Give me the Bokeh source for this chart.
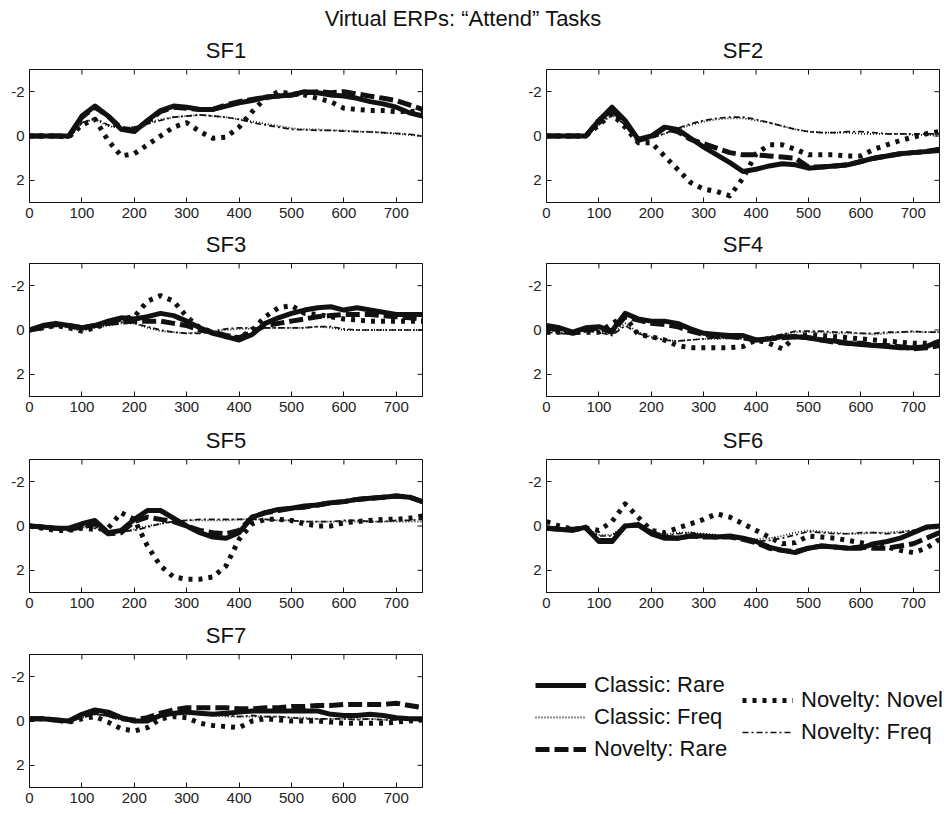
from bokeh.plotting import figure
from bokeh.layouts import column, row
from bokeh.models import Range1d, FixedTicker, Legend, LegendItem, ColumnDataSource, Div
from bokeh.embed import file_html
from bokeh.resources import INLINE

# ---------------- data ----------------
time_ms = [0, 25, 50, 75, 100, 125, 150, 175, 200, 225, 250, 275, 300, 325, 350, 375,
           400, 425, 450, 475, 500, 525, 550, 575, 600, 625, 650, 675, 700, 725, 750]

main_title = "Virtual ERPs: \u201cAttend\u201d Tasks"
series_names = ["Classic: Rare", "Classic: Freq", "Novelty: Rare", "Novelty: Novel", "Novelty: Freq"]
panel_names = ["SF1", "SF2", "SF3", "SF4", "SF5", "SF6", "SF7"]
x_ticks = [0, 100, 200, 300, 400, 500, 600, 700]
y_ticks = [-2, 0, 2]
y_tick_labels = {-2: "-2", 0: "0", 2: "2"}

sf1_classic_rare = [0,0,0,0,-0.9,-1.35,-0.9,-0.3,-0.2,-0.7,-1.15,-1.35,-1.3,-1.2,-1.2,-1.35,-1.5,-1.6,-1.75,-1.8,-1.85,-2.0,-1.95,-1.85,-1.8,-1.7,-1.55,-1.45,-1.3,-1.05,-0.9]
sf1_classic_freq = [0,0,0,0.05,-0.6,-0.75,-0.45,-0.35,-0.4,-0.6,-0.75,-0.85,-0.9,-0.95,-0.9,-0.85,-0.75,-0.65,-0.55,-0.45,-0.35,-0.3,-0.3,-0.25,-0.25,-0.2,-0.2,-0.15,-0.1,-0.05,0]
sf1_novelty_rare = [0,0,0,0,-0.85,-1.3,-0.9,-0.35,-0.25,-0.65,-1.1,-1.3,-1.25,-1.2,-1.2,-1.4,-1.55,-1.65,-1.75,-1.8,-1.85,-1.95,-2.0,-1.95,-2.0,-1.9,-1.8,-1.7,-1.6,-1.4,-1.2]
sf1_novelty_novel = [0,0,0,0.05,-0.5,-0.75,0.2,0.9,0.8,0.4,0,-0.4,-0.6,-0.2,0.1,0.05,-0.4,-1.1,-1.7,-2.0,-1.9,-1.85,-1.7,-1.55,-1.25,-1.2,-1.15,-1.15,-1.1,-1.1,-1.15]
sf1_novelty_freq = [0,0,0,0.1,-0.6,-0.8,-0.5,-0.35,-0.4,-0.55,-0.7,-0.85,-0.9,-0.95,-0.9,-0.85,-0.75,-0.6,-0.5,-0.4,-0.3,-0.28,-0.25,-0.25,-0.22,-0.2,-0.18,-0.15,-0.12,-0.08,0]

sf2_classic_rare = [0,0,0,0,-0.7,-1.3,-0.7,0.15,0.0,-0.4,-0.3,0.1,0.5,0.85,1.2,1.6,1.5,1.35,1.25,1.3,1.45,1.4,1.35,1.3,1.15,1.0,0.9,0.8,0.75,0.7,0.6]
sf2_classic_freq = [0,0,0,0,-0.5,-0.95,-0.5,0.15,0.1,-0.1,-0.3,-0.5,-0.65,-0.75,-0.8,-0.8,-0.7,-0.6,-0.45,-0.3,-0.2,-0.15,-0.15,-0.15,-0.1,-0.1,-0.1,-0.1,-0.05,-0.05,0]
sf2_novelty_rare = [0,0,0,0,-0.7,-1.2,-0.6,0.2,0.05,-0.35,-0.2,0.15,0.35,0.55,0.75,0.85,0.85,0.9,0.95,1.0,1.4,1.4,1.35,1.3,1.15,1.0,0.9,0.8,0.75,0.7,0.65]
sf2_novelty_novel = [0,0,0,0,-0.5,-1.0,-0.4,0.3,0.3,0.9,1.5,2.1,2.4,2.5,2.7,1.9,0.8,0.4,0.4,0.6,0.85,0.85,0.85,0.9,0.9,0.6,0.4,0.2,0.05,-0.1,-0.2]
sf2_novelty_freq = [0,0,0,0,-0.5,-1.0,-0.5,0.2,0.1,-0.1,-0.35,-0.55,-0.7,-0.8,-0.85,-0.85,-0.75,-0.6,-0.45,-0.3,-0.2,-0.15,-0.15,-0.2,-0.2,-0.15,-0.1,-0.1,-0.1,-0.1,-0.1]

sf3_classic_rare = [0,-0.2,-0.3,-0.2,-0.1,-0.2,-0.4,-0.55,-0.5,-0.6,-0.75,-0.65,-0.4,-0.1,0.15,0.3,0.45,0.2,-0.3,-0.55,-0.75,-0.9,-1.0,-1.05,-0.9,-1.0,-0.9,-0.8,-0.7,-0.7,-0.7]
sf3_classic_freq = [0,-0.1,-0.2,-0.1,0.05,-0.1,-0.2,-0.3,-0.3,-0.1,0.05,0.1,0.15,0.1,0.05,0.0,-0.05,-0.05,-0.1,-0.1,-0.1,-0.1,-0.15,-0.1,0.0,0.0,0.0,0.0,0.0,0.0,0.0]
sf3_novelty_rare = [0,-0.1,-0.25,-0.2,-0.1,-0.2,-0.3,-0.35,-0.4,-0.4,-0.4,-0.3,-0.2,0.0,0.1,0.25,0.35,0.1,-0.2,-0.3,-0.4,-0.5,-0.6,-0.65,-0.7,-0.7,-0.7,-0.65,-0.6,-0.55,-0.5]
sf3_novelty_novel = [0,-0.1,-0.2,-0.1,0.05,-0.1,-0.3,-0.5,-0.6,-1.3,-1.55,-1.3,-0.6,-0.1,0.1,0.3,0.35,0.0,-0.6,-1.0,-1.1,-0.75,-0.7,-0.6,-0.5,-0.45,-0.4,-0.4,-0.4,-0.4,-0.4]
sf3_novelty_freq = [0,-0.1,-0.2,-0.15,0.0,-0.15,-0.25,-0.35,-0.3,-0.15,0.0,0.1,0.15,0.15,0.05,-0.05,-0.1,-0.1,-0.1,-0.1,-0.1,-0.1,-0.15,-0.15,-0.05,0.0,0.0,0.0,0.0,0.0,0.0]

sf4_classic_rare = [-0.2,-0.1,0.1,-0.1,-0.15,0.05,-0.75,-0.5,-0.4,-0.4,-0.3,-0.05,0.15,0.2,0.25,0.25,0.45,0.4,0.3,0.3,0.35,0.45,0.5,0.6,0.65,0.7,0.75,0.8,0.8,0.75,0.5]
sf4_classic_freq = [0,0.1,0.2,0.0,0.05,0.2,-0.3,0.1,0.3,0.45,0.5,0.45,0.4,0.4,0.35,0.4,0.5,0.35,0.2,0.1,0.1,0.1,0.15,0.15,0.15,0.2,0.15,0.1,0.1,0.1,0.1]
sf4_novelty_rare = [-0.1,0.0,0.15,0.0,-0.1,0.1,-0.6,-0.45,-0.3,-0.25,-0.15,0.05,0.2,0.3,0.3,0.35,0.45,0.4,0.35,0.3,0.35,0.45,0.55,0.6,0.6,0.7,0.7,0.75,0.85,0.8,0.7]
sf4_novelty_novel = [0.1,0.1,0.1,0.1,0.1,-0.3,-0.6,0.2,0.3,0.45,0.7,0.8,0.8,0.8,0.8,0.75,0.45,0.6,0.85,0.3,0.2,0.25,0.3,0.35,0.4,0.45,0.5,0.55,0.6,0.6,0.6]
sf4_novelty_freq = [0.1,0.15,0.2,0.05,0.1,0.25,-0.2,0.15,0.35,0.45,0.5,0.45,0.4,0.35,0.35,0.4,0.45,0.3,0.2,0.05,0.05,0.05,0.1,0.1,0.15,0.15,0.1,0.1,0.05,0.1,0.1]

sf5_classic_rare = [0,0.05,0.1,0.1,-0.1,-0.25,0.3,0.2,-0.3,-0.7,-0.7,-0.35,0.0,0.3,0.5,0.55,0.3,-0.4,-0.6,-0.75,-0.8,-0.9,-0.95,-1.05,-1.1,-1.2,-1.25,-1.3,-1.35,-1.3,-1.1]
sf5_classic_freq = [0,0.05,0.1,0.1,0.05,0.1,0.3,0.25,0.15,0.0,-0.1,-0.2,-0.25,-0.25,-0.25,-0.25,-0.3,-0.3,-0.3,-0.25,-0.25,-0.2,-0.2,-0.2,-0.2,-0.2,-0.2,-0.2,-0.2,-0.2,-0.2]
sf5_novelty_rare = [0,0.05,0.1,0.15,0.05,-0.1,0.35,0.3,-0.2,-0.4,-0.3,-0.2,0.0,0.2,0.3,0.35,0.2,-0.4,-0.6,-0.7,-0.8,-0.85,-0.95,-1.05,-1.1,-1.2,-1.25,-1.3,-1.35,-1.3,-1.1]
sf5_novelty_novel = [0,0.1,0.2,0.2,0.1,0.15,0.1,-0.6,-0.3,0.9,1.8,2.3,2.4,2.4,2.3,1.8,0.6,-0.1,-0.3,-0.3,-0.25,-0.1,0.0,0.0,-0.15,-0.2,-0.25,-0.3,-0.3,-0.35,-0.45]
sf5_novelty_freq = [0,0.05,0.15,0.15,0.0,0.1,0.3,0.25,0.2,0.05,-0.1,-0.2,-0.25,-0.3,-0.3,-0.3,-0.3,-0.3,-0.3,-0.25,-0.25,-0.2,-0.2,-0.2,-0.25,-0.25,-0.2,-0.2,-0.25,-0.25,-0.3]

sf6_classic_rare = [0.1,0.15,0.2,0.05,0.7,0.7,0.0,-0.05,0.35,0.55,0.55,0.45,0.45,0.5,0.45,0.55,0.7,0.95,1.1,1.2,1.0,0.9,0.95,1.0,1.0,0.8,0.7,0.55,0.3,0.05,0.0]
sf6_classic_freq = [0,0.1,0.15,0.1,0.4,0.4,-0.05,-0.15,0.2,0.4,0.3,0.3,0.35,0.4,0.45,0.5,0.6,0.55,0.45,0.3,0.2,0.25,0.3,0.35,0.35,0.3,0.3,0.25,0.2,0.15,0.1]
sf6_novelty_rare = [0.1,0.15,0.15,0.1,0.65,0.65,0.0,-0.05,0.3,0.5,0.55,0.45,0.5,0.5,0.5,0.6,0.75,1.0,1.1,1.15,1.0,0.9,0.95,1.0,0.95,1.0,1.0,0.9,0.8,0.55,0.3]
sf6_novelty_novel = [-0.2,0.0,0.15,0.1,0.2,-0.2,-1.0,-0.4,0.2,0.3,0.1,-0.1,-0.3,-0.55,-0.4,-0.1,0.2,0.5,0.8,0.75,0.45,0.5,0.55,0.65,0.75,0.85,0.95,1.1,1.2,1.0,0.6]
sf6_novelty_freq = [0,0.1,0.2,0.1,0.45,0.45,0.0,-0.15,0.25,0.45,0.35,0.3,0.4,0.5,0.55,0.6,0.7,0.65,0.55,0.4,0.25,0.3,0.35,0.35,0.3,0.3,0.35,0.3,0.2,0.1,0.1]

sf7_classic_rare = [-0.1,-0.1,-0.05,0.0,-0.3,-0.5,-0.4,-0.15,0.0,0.0,-0.25,-0.35,-0.4,-0.35,-0.3,-0.35,-0.4,-0.45,-0.45,-0.45,-0.45,-0.45,-0.45,-0.3,-0.25,-0.25,-0.3,-0.25,-0.15,-0.1,-0.1]
sf7_classic_freq = [-0.1,-0.1,-0.05,0.0,-0.15,-0.3,-0.2,-0.05,0.05,-0.05,-0.25,-0.3,-0.3,-0.3,-0.25,-0.2,-0.2,-0.2,-0.2,-0.2,-0.15,-0.15,-0.1,-0.1,-0.1,-0.1,-0.1,-0.05,-0.05,-0.05,-0.05]
sf7_novelty_rare = [-0.1,-0.1,-0.05,0.0,-0.25,-0.4,-0.3,-0.1,-0.05,-0.15,-0.35,-0.5,-0.6,-0.6,-0.6,-0.6,-0.55,-0.55,-0.6,-0.6,-0.65,-0.65,-0.7,-0.7,-0.75,-0.75,-0.75,-0.75,-0.8,-0.7,-0.6]
sf7_novelty_novel = [-0.1,-0.1,-0.05,0.05,-0.1,-0.2,0.05,0.35,0.45,0.3,-0.1,-0.2,-0.15,0.1,0.2,0.25,0.3,0.0,-0.1,-0.05,0.0,0.0,0.0,0.05,0.1,0.1,0.1,0.1,0.05,0.0,-0.05]
sf7_novelty_freq = [-0.1,-0.1,-0.05,0.0,-0.15,-0.3,-0.25,-0.1,0.0,-0.1,-0.3,-0.35,-0.35,-0.3,-0.3,-0.25,-0.2,-0.25,-0.2,-0.2,-0.15,-0.1,-0.1,-0.1,-0.1,-0.05,-0.1,-0.05,-0.05,-0.05,0.0]

panel_data = {
    "SF1": [sf1_classic_rare, sf1_classic_freq, sf1_novelty_rare, sf1_novelty_novel, sf1_novelty_freq],
    "SF2": [sf2_classic_rare, sf2_classic_freq, sf2_novelty_rare, sf2_novelty_novel, sf2_novelty_freq],
    "SF3": [sf3_classic_rare, sf3_classic_freq, sf3_novelty_rare, sf3_novelty_novel, sf3_novelty_freq],
    "SF4": [sf4_classic_rare, sf4_classic_freq, sf4_novelty_rare, sf4_novelty_novel, sf4_novelty_freq],
    "SF5": [sf5_classic_rare, sf5_classic_freq, sf5_novelty_rare, sf5_novelty_novel, sf5_novelty_freq],
    "SF6": [sf6_classic_rare, sf6_classic_freq, sf6_novelty_rare, sf6_novelty_novel, sf6_novelty_freq],
    "SF7": [sf7_classic_rare, sf7_classic_freq, sf7_novelty_rare, sf7_novelty_novel, sf7_novelty_freq],
}

# ---------------- styles ----------------
FONT = "Liberation Sans"
INK = "#111111"
styles = [
    dict(line_width=5, line_dash="solid"),
    dict(line_width=1.8, line_dash="1 2"),
    dict(line_width=5, line_dash="14 5"),
    dict(line_width=5, line_dash="4 6"),
    dict(line_width=1.7, line_dash="6 3 2 3"),
]

FRAME_W = 393
FRAME_H = 133
X_LO, X_HI = 0, 750
Y_TOP, Y_BOT = -3, 3
TICK_PX = 5


def style_axis(ax):
    ax.axis_line_color = INK
    ax.axis_line_width = 1
    ax.major_tick_line_color = INK
    ax.major_tick_in = TICK_PX
    ax.major_tick_out = 0
    ax.minor_tick_in = 0
    ax.minor_tick_out = 0
    ax.major_label_text_font = FONT
    ax.major_label_text_font_size = "15px"
    ax.major_label_text_color = "#222222"
    ax.major_label_standoff = 5


def make_panel(name, left_b, right_b, top_b, bottom_b):
    p = figure(width=left_b + FRAME_W + right_b, height=top_b + FRAME_H + bottom_b,
               x_range=Range1d(X_LO, X_HI), y_range=Range1d(Y_BOT, Y_TOP),
               output_backend="svg", toolbar_location=None,
               min_border_left=left_b, min_border_right=right_b,
               min_border_top=top_b, min_border_bottom=bottom_b)
    p.title.text = name
    p.title.align = "center"
    p.title.vertical_align = "top"
    p.title.text_font = FONT
    p.title.text_font_size = "22px"
    p.title.text_font_style = "normal"
    p.title.text_color = INK
    p.title.standoff = 10
    p.xgrid.visible = False
    p.ygrid.visible = False
    p.outline_line_color = INK
    p.outline_line_width = 1
    p.xaxis.ticker = FixedTicker(ticks=x_ticks)
    p.yaxis.ticker = FixedTicker(ticks=y_ticks)
    p.yaxis.major_label_overrides = y_tick_labels
    style_axis(p.xaxis[0])
    style_axis(p.yaxis[0])
    # inward tick marks on the top and right edges of the box (MATLAB style)
    dy = TICK_PX * (Y_BOT - Y_TOP) / FRAME_H
    dx = TICK_PX * (X_HI - X_LO) / FRAME_W
    p.segment(x0=x_ticks, x1=x_ticks, y0=[Y_TOP] * len(x_ticks), y1=[Y_TOP + dy] * len(x_ticks),
              line_color=INK, line_width=1)
    p.segment(x0=[X_HI] * len(y_ticks), x1=[X_HI - dx] * len(y_ticks), y0=y_ticks, y1=y_ticks,
              line_color=INK, line_width=1)
    for vals, st in zip(panel_data[name], styles):
        src = ColumnDataSource(dict(t=time_ms, v=vals))
        p.line("t", "v", source=src, line_color=INK, line_cap="butt", line_join="round", **st)
    return p


# column geometry
L1, R1 = 29, 58
L2, R2 = 66, 7
row_borders = [(37, 23), (38, 23), (40, 23), (39, 27)]

title_div = Div(text=('<div style="width:926px;text-align:center;font-family:\'Liberation Sans\',Arial,sans-serif;'
                      'font-size:22px;line-height:22px;padding-top:8px;color:#111111;white-space:nowrap">'
                      + main_title + '</div>'),
                width=946, height=32, margin=0)

rows = [title_div]
for r in range(4):
    tb, bb = row_borders[r]
    left = make_panel(panel_names[2 * r], L1, R1, tb, bb)
    if r < 3:
        right = make_panel(panel_names[2 * r + 1], L2, R2, tb, bb)
    else:
        fig_h = tb + FRAME_H + bb
        # legend-only panel: series drawn out of view, only the legend shows
        right = figure(width=L2 + FRAME_W + R2, height=fig_h, output_backend="svg",
                       toolbar_location=None, x_axis_type=None, y_axis_type=None,
                       min_border_left=0, min_border_right=0, min_border_top=tb, min_border_bottom=bb,
                       title=None, x_range=Range1d(2000, 2001), y_range=Range1d(0, 1))
        right.outline_line_color = None
        right.grid.visible = False
        renderers = []
        for vals, st in zip(panel_data["SF7"], styles):
            renderers.append(right.line(time_ms, vals, line_color=INK, line_cap="butt", **st))
        common = dict(glyph_width=51, glyph_height=32, label_height=32, label_standoff=8,
                      spacing=0, padding=0, margin=0, border_line_color=None,
                      background_fill_alpha=0, label_text_font=FONT,
                      label_text_font_size="22px", label_text_color=INK)
        leg_a = Legend(items=[LegendItem(label=series_names[i], renderers=[renderers[i]]) for i in (0, 1, 2)],
                       location=(55, 22), **common)
        leg_b = Legend(items=[LegendItem(label=series_names[i], renderers=[renderers[i]]) for i in (3, 4)],
                       location=(262, 39), **common)
        right.add_layout(leg_a, "center")
        right.add_layout(leg_b, "center")
    rows.append(row(left, right))

layout = column(*rows)
open("out.html", "w").write(file_html(layout, INLINE))
